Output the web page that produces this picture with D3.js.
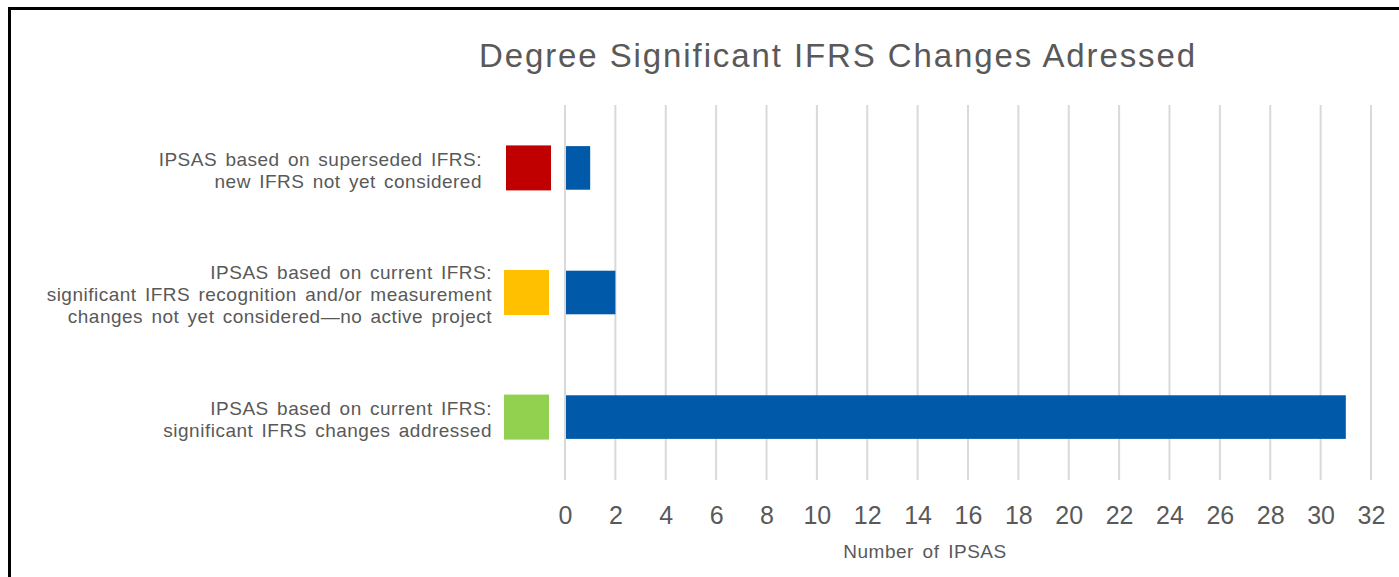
<!DOCTYPE html>
<html>
<head>
<meta charset="utf-8">
<script src="https://d3js.org/d3.v7.min.js"></script>
<style>
  body { margin: 0; background: #fff; }
  svg { display: block; font-family: "Liberation Sans", Arial, sans-serif; }
</style>
</head>
<body>
<script>
// chart data
const categories = [
  ["IPSAS based on superseded IFRS:", "new IFRS not yet considered"],
  ["IPSAS based on current IFRS:", "significant IFRS recognition and/or measurement", "changes not yet considered\u2014no active project"],
  ["IPSAS based on current IFRS:", "significant IFRS changes addressed"]
];
const values = [1, 2, 31];
const markerColors = ["#c00000", "#ffc000", "#92d050"];
const xTicks = [0, 2, 4, 6, 8, 10, 12, 14, 16, 18, 20, 22, 24, 26, 28, 30, 32];
const titleText = "Degree Significant IFRS Changes Adressed";
const xTitle = "Number of IPSAS";

const W = 1399, H = 577;
const margin = { top: 105, right: 28, bottom: 97, left: 565 };

const svg = d3.select("body").append("svg")
    .attr("width", W)
    .attr("height", H);

// frame (only left and top edges are visible)
svg.append("path")
    .attr("d", `M9.5,${H} L9.5,8.5 L${W},8.5`)
    .attr("fill", "none")
    .attr("stroke", "#000")
    .attr("stroke-width", 3);

const x = d3.scaleLinear()
    .domain([0, 32])
    .range([margin.left, W - margin.right]);

const y = d3.scaleBand()
    .domain(d3.range(categories.length))
    .range([margin.top, H - margin.bottom])
    .paddingInner(0.65)
    .paddingOuter(0.33);

// gridlines
svg.append("g")
    .selectAll("line")
    .data(xTicks)
    .join("line")
    .attr("x1", d => x(d)).attr("x2", d => x(d))
    .attr("y1", margin.top).attr("y2", H - margin.bottom)
    .attr("stroke", "#d9d9d9")
    .attr("stroke-width", 2);

// bars
svg.append("g")
    .selectAll("rect")
    .data(values)
    .join("rect")
    .attr("x", x(0) + 1)
    .attr("y", (d, i) => y(i))
    .attr("width", d => x(d) - x(0) - 1)
    .attr("height", y.bandwidth())
    .attr("fill", "#005aa9");

// coloured markers left of the axis
const mSize = 45;
svg.append("g")
    .selectAll("rect")
    .data(markerColors)
    .join("rect")
    .attr("x", (d, i) => x(0) - (i == 0 ? 59 : 61))
    .attr("y", (d, i) => y(i) + y.bandwidth() / 2 - mSize / 2)
    .attr("width", mSize)
    .attr("height", mSize)
    .attr("fill", d => d);

// category labels
const lineH = 22;
const labels = svg.append("g")
    .attr("fill", "#595959")
    .attr("font-size", 19)
    .attr("text-anchor", "end")
    .style("letter-spacing", "0.5px")
    .style("word-spacing", "2.5px");

categories.forEach((lines, i) => {
  const cy = y(i) + y.bandwidth() / 2 + 2;
  const right = i == 0 ? 482 : 492;
  const t = labels.append("text");
  lines.forEach((ln, j) => {
    t.append("tspan")
      .attr("x", right)
      .attr("y", cy + (j - (lines.length - 1) / 2) * lineH)
      .attr("dy", "0.35em")
      .text(ln);
  });
});

// x axis tick labels
const xAxis = d3.axisBottom(x)
    .tickValues(xTicks)
    .tickSize(0)
    .tickPadding(0);

const gx = svg.append("g")
    .attr("transform", `translate(0,${H - margin.bottom})`)
    .call(xAxis);
gx.select(".domain").remove();
gx.selectAll("text")
    .attr("y", 44)
    .attr("dy", 0)
    .attr("fill", "#595959")
    .attr("font-size", 25)
    .attr("font-family", "Liberation Sans, Arial, sans-serif");

// axis title
svg.append("text")
    .attr("x", 925)
    .attr("y", 558)
    .attr("text-anchor", "middle")
    .attr("fill", "#595959")
    .attr("font-size", 19)
    .style("letter-spacing", "0.5px")
    .style("word-spacing", "3px")
    .text(xTitle);

// chart title
svg.append("text")
    .attr("x", 838)
    .attr("y", 67)
    .attr("text-anchor", "middle")
    .attr("fill", "#595959")
    .attr("font-size", 33)
    .style("letter-spacing", "1.9px")
    .text(titleText);
</script>
</body>
</html>
